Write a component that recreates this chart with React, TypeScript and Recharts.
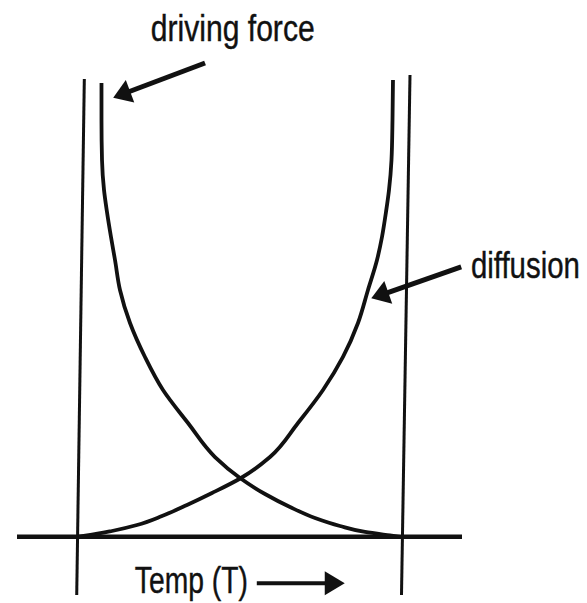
import React from 'react';
import { ComposedChart, Line, XAxis, YAxis, ReferenceLine, ReferenceDot } from 'recharts';

// Temperature (arbitrary units) and rate values
const driveT = [7.38, 7.38, 7.54, 8.16, 9.08, 10.32, 11.56, 13.10, 16.20, 20.83, 26.40, 34.13, 42.48, 50.21, 57.94, 65.67, 73.40, 81.13, 88.86, 96.59, 99.68];
const driveRate = [100.86, 92.63, 83.74, 77.08, 72.19, 66.63, 61.52, 54.86, 47.52, 39.97, 32.63, 25.30, 17.74, 13.08, 9.52, 6.63, 4.19, 2.41, 1.08, 0.30, 0.0];

const diffT = [-0.2, 2.90, 10.63, 18.36, 26.09, 33.82, 41.55, 50.52, 59.48, 68.14, 75.87, 82.05, 86.69, 89.78, 92.57, 94.11, 95.35, 96.28, 97.05, 97.36, 97.51];
const diffRate = [0.0, 0.30, 1.30, 2.63, 4.63, 7.08, 9.74, 13.08, 17.74, 25.30, 32.63, 39.97, 47.52, 54.86, 61.52, 66.63, 72.19, 77.08, 83.74, 92.63, 101.52];

// Frame lines (bounds)
const leftBound = [[2.07, 101.74], [-0.28, -12.92]];
const rightBound = [[102.77, 102.63], [100.14, -12.92]];
const baseline = [[-18.74, 0], [118.85, 0]];

// Annotation arrows: [tail, tip]
const arrows = [
  { from: [39.4, 105.3], to: [11.0, 97.6], head: 18, half: 12, w: 5 },
  { from: [118.6, 60.0], to: [90.8, 53.0], head: 18, half: 12, w: 5 },
  { from: [55.4, -10.3], to: [82.6, -10.3], head: 20, half: 12, w: 4 },
];

// Labels
const labelText = ['driving force', 'diffusion', 'Temp (T)'];
const labelX = [22.6, 155.3, 17.7];
const labelY = [110.2, 57.5, -12.4];
const labelAnchor = ['start', 'end', 'start'];
const labelWidth = [164, 109, 113];

const driveData = driveT.map((t, i) => ({ t, v: driveRate[i] }));
const diffData = diffT.map((t, i) => ({ t, v: diffRate[i] }));

const INK = '#111';

const ArrowShape = (props: any, head: number, half: number, w: number) => {
  const { x1, y1, x2, y2 } = props;
  const dx = x2 - x1;
  const dy = y2 - y1;
  const len = Math.sqrt(dx * dx + dy * dy) || 1;
  const ux = dx / len;
  const uy = dy / len;
  const bx = x2 - ux * head;
  const by = y2 - uy * head;
  const px = -uy;
  const py = ux;
  const pts = `${x2},${y2} ${bx + px * half},${by + py * half} ${bx - px * half},${by - py * half}`;
  return (
    <g>
      <line x1={x1} y1={y1} x2={bx + ux * 2} y2={by + uy * 2} stroke={INK} strokeWidth={w} />
      <polygon points={pts} fill={INK} />
    </g>
  );
};

export default function App() {
  return (
    <div style={{ position: 'absolute', left: 0, top: 0, width: 587, height: 603, background: '#fff' }}>
      <ComposedChart width={587} height={603} margin={{ top: 0, right: 0, bottom: 0, left: 0 }}>
        <XAxis type="number" dataKey="t" domain={[-24, 157.5]} hide allowDataOverflow />
        <YAxis type="number" dataKey="v" domain={[-14.7, 119.3]} hide allowDataOverflow />
        <ReferenceLine
          segment={[{ x: baseline[0][0], y: baseline[0][1] }, { x: baseline[1][0], y: baseline[1][1] }]}
          stroke={INK}
          strokeWidth={4.5}
          ifOverflow="visible"
        />
        <ReferenceLine
          segment={[{ x: leftBound[0][0], y: leftBound[0][1] }, { x: leftBound[1][0], y: leftBound[1][1] }]}
          stroke={INK}
          strokeWidth={3}
          ifOverflow="visible"
        />
        <ReferenceLine
          segment={[{ x: rightBound[0][0], y: rightBound[0][1] }, { x: rightBound[1][0], y: rightBound[1][1] }]}
          stroke={INK}
          strokeWidth={3}
          ifOverflow="visible"
        />
        <Line
          data={driveData}
          dataKey="v"
          type="monotoneY"
          stroke={INK}
          strokeWidth={3.8}
          dot={false}
          activeDot={false}
          isAnimationActive={false}
        />
        <Line
          data={diffData}
          dataKey="v"
          type="monotoneY"
          stroke={INK}
          strokeWidth={3.8}
          dot={false}
          activeDot={false}
          isAnimationActive={false}
        />
        {arrows.map((a, i) => (
          <ReferenceLine
            key={'arr' + i}
            segment={[{ x: a.from[0], y: a.from[1] }, { x: a.to[0], y: a.to[1] }]}
            ifOverflow="visible"
            shape={(p: any) => ArrowShape(p, a.head, a.half, a.w)}
          />
        ))}
        {labelText.map((txt, i) => (
          <ReferenceDot
            key={'lbl' + i}
            x={labelX[i]}
            y={labelY[i]}
            r={0}
            ifOverflow="visible"
            shape={(p: any) => (
              <text
                x={p.cx}
                y={p.cy}
                fill={INK}
                stroke={INK}
                strokeWidth={0.4}
                textAnchor={labelAnchor[i] as any}
                fontFamily="'Liberation Sans', Arial, sans-serif"
                fontSize={36}
                textLength={labelWidth[i]}
                lengthAdjust="spacingAndGlyphs"
              >
                {txt}
              </text>
            )}
          />
        ))}
      </ComposedChart>
    </div>
  );
}
